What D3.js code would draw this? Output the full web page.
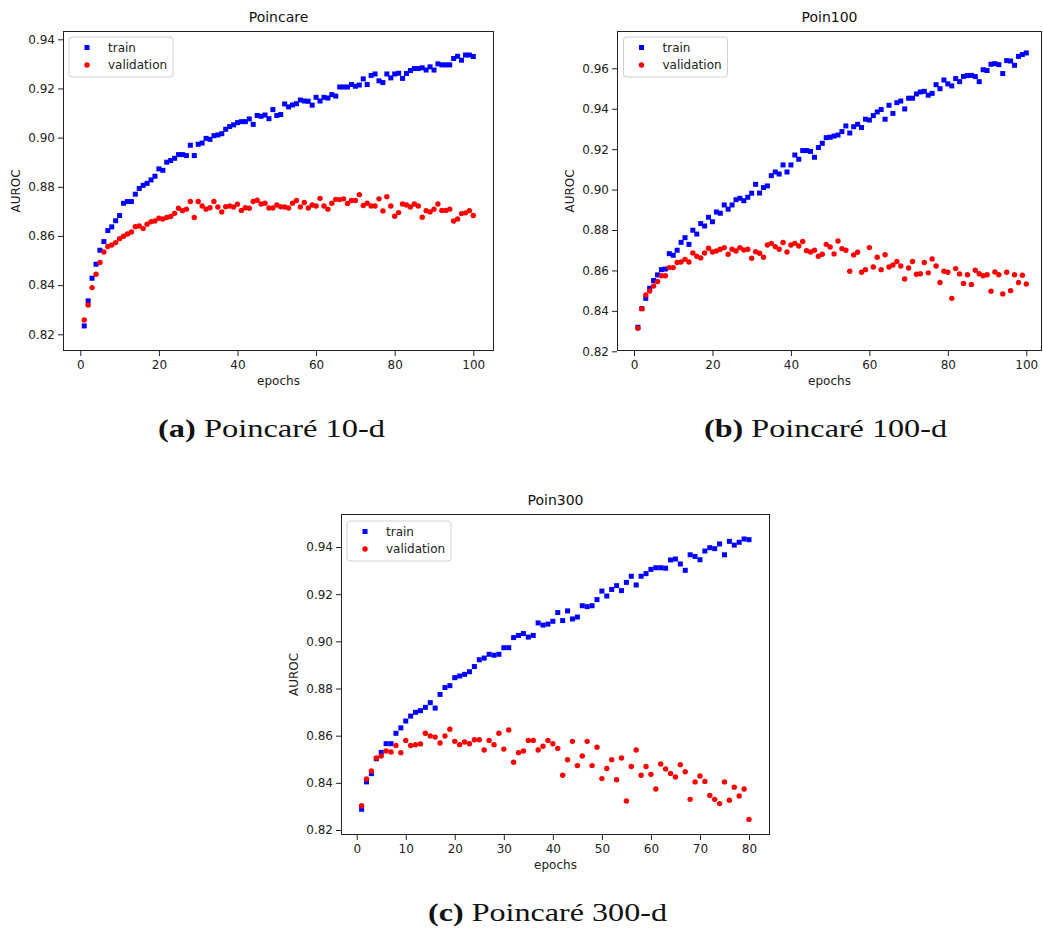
<!DOCTYPE html>
<html>
<head>
<meta charset="utf-8">
<script src="https://cdn.jsdelivr.net/npm/d3@7"></script>
<style>
  html, body { margin: 0; padding: 0; background: #fff; }
  svg { display: block; }
  .tick text { font-family: "DejaVu Sans", sans-serif; font-size: 12px; fill: #222; }
  .tick line { stroke: #222; }
  .cap { font-family: "Liberation Serif", "Times New Roman", serif; font-size: 26px; fill: #111; }
</style>
</head>
<body>
<svg id="fig" width="1043" height="932"></svg>
<script>
// ---------- data ----------
const titles = ["Poincare", "Poin100", "Poin300"];
const seriesNames = ["train", "validation"];
const captionsBold = ["(a)", "(b)", "(c)"];
const captionsText = ["Poincaré 10-d", "Poincaré 100-d", "Poincaré 300-d"];

const trainA = [0.8234,0.8336,0.8428,0.8485,0.8542,0.8577,0.8622,0.8637,0.8662,0.8683,
0.8733,0.8740,0.8740,0.8770,0.8793,0.8806,0.8814,0.8828,0.8843,0.8873,
0.8867,0.8900,0.8907,0.8916,0.8931,0.8931,0.8927,0.8969,0.8927,0.8973,
0.8978,0.8997,0.8993,0.9008,0.9011,0.9016,0.9034,0.9045,0.9052,0.9061,
0.9065,0.9065,0.9076,0.9054,0.9090,0.9087,0.9092,0.9077,0.9114,0.9090,
0.9094,0.9137,0.9125,0.9133,0.9138,0.9153,0.9149,0.9148,0.9132,0.9164,
0.9149,0.9164,0.9161,0.9175,0.9169,0.9206,0.9206,0.9206,0.9216,0.9209,
0.9214,0.9239,0.9216,0.9253,0.9259,0.9231,0.9224,0.9259,0.9243,0.9259,
0.9262,0.9241,0.9261,0.9273,0.9281,0.9281,0.9284,0.9275,0.9288,0.9275,
0.9300,0.9296,0.9296,0.9296,0.9322,0.9331,0.9315,0.9336,0.9336,0.9330];
const valA = [0.8258,0.8319,0.8390,0.8444,0.8492,0.8535,0.8557,0.8563,0.8573,0.8589,
0.8599,0.8608,0.8616,0.8638,0.8641,0.8630,0.8648,0.8658,0.8661,0.8672,
0.8669,0.8675,0.8679,0.8692,0.8713,0.8703,0.8709,0.8740,0.8675,0.8740,
0.8722,0.8709,0.8715,0.8740,0.8718,0.8698,0.8719,0.8722,0.8718,0.8729,
0.8704,0.8715,0.8713,0.8740,0.8745,0.8730,0.8733,0.8714,0.8714,0.8726,
0.8719,0.8718,0.8714,0.8733,0.8744,0.8718,0.8736,0.8714,0.8726,0.8722,
0.8753,0.8722,0.8709,0.8733,0.8749,0.8748,0.8751,0.8732,0.8744,0.8744,
0.8768,0.8724,0.8733,0.8722,0.8722,0.8751,0.8702,0.8760,0.8722,0.8680,
0.8695,0.8730,0.8726,0.8718,0.8730,0.8722,0.8676,0.8703,0.8698,0.8709,
0.8730,0.8704,0.8704,0.8709,0.8661,0.8669,0.8691,0.8694,0.8703,0.8683];

const trainB = [0.8319,0.8411,0.8462,0.8512,0.8550,0.8578,0.8604,0.8607,0.8683,0.8675,
0.8700,0.8739,0.8762,0.8729,0.8799,0.8780,0.8832,0.8820,0.8863,0.8841,
0.8889,0.8883,0.8924,0.8903,0.8924,0.8950,0.8957,0.8945,0.8962,0.8982,
0.9026,0.8983,0.9010,0.9018,0.9069,0.9087,0.9077,0.9122,0.9087,0.9122,
0.9171,0.9150,0.9193,0.9193,0.9189,0.9160,0.9208,0.9229,0.9257,0.9259,
0.9265,0.9270,0.9287,0.9315,0.9280,0.9311,0.9323,0.9307,0.9348,0.9344,
0.9366,0.9384,0.9396,0.9348,0.9417,0.9377,0.9430,0.9438,0.9399,0.9452,
0.9452,0.9473,0.9483,0.9486,0.9467,0.9476,0.9519,0.9499,0.9542,0.9523,
0.9513,0.9549,0.9534,0.9560,0.9564,0.9565,0.9559,0.9534,0.9593,0.9589,
0.9620,0.9623,0.9618,0.9574,0.9638,0.9636,0.9615,0.9659,0.9668,0.9676];
const valB = [0.8314,0.8411,0.8479,0.8498,0.8523,0.8545,0.8574,0.8574,0.8614,0.8614,
0.8639,0.8642,0.8655,0.8642,0.8686,0.8670,0.8662,0.8686,0.8710,0.8691,
0.8696,0.8705,0.8713,0.8680,0.8705,0.8696,0.8713,0.8701,0.8705,0.8660,
0.8693,0.8685,0.8665,0.8726,0.8734,0.8718,0.8705,0.8738,0.8691,0.8726,
0.8734,0.8721,0.8743,0.8698,0.8691,0.8700,0.8670,0.8680,0.8729,0.8716,
0.8682,0.8746,0.8708,0.8700,0.8596,0.8677,0.8690,0.8591,0.8604,0.8713,
0.8617,0.8665,0.8604,0.8678,0.8617,0.8627,0.8644,0.8622,0.8558,0.8612,
0.8644,0.8581,0.8584,0.8639,0.8588,0.8657,0.8622,0.8540,0.8596,0.8591,
0.8462,0.8609,0.8583,0.8536,0.8579,0.8531,0.8601,0.8584,0.8574,0.8579,
0.8497,0.8592,0.8579,0.8484,0.8591,0.8500,0.8579,0.8540,0.8576,0.8533];

const trainC = [0.8288,0.8404,0.8439,0.8502,0.8529,0.8566,0.8566,0.8610,0.8633,0.8662,
0.8683,0.8699,0.8706,0.8720,0.8740,0.8717,0.8775,0.8804,0.8812,0.8846,
0.8853,0.8860,0.8871,0.8893,0.8922,0.8929,0.8945,0.8941,0.8945,0.8973,
0.8973,0.9016,0.9025,0.9033,0.9018,0.9025,0.9078,0.9069,0.9073,0.9085,
0.9122,0.9088,0.9129,0.9095,0.9103,0.9151,0.9147,0.9151,0.9177,0.9213,
0.9192,0.9220,0.9236,0.9215,0.9250,0.9276,0.9239,0.9276,0.9287,0.9305,
0.9312,0.9312,0.9310,0.9345,0.9349,0.9328,0.9301,0.9367,0.9360,0.9346,
0.9383,0.9397,0.9393,0.9413,0.9367,0.9424,0.9408,0.9420,0.9434,0.9431];
const valC = [0.8303,0.8416,0.8450,0.8505,0.8514,0.8535,0.8531,0.8558,0.8528,0.8580,
0.8558,0.8562,0.8565,0.8610,0.8599,0.8594,0.8569,0.8599,0.8627,0.8576,
0.8562,0.8573,0.8566,0.8583,0.8583,0.8539,0.8580,0.8562,0.8610,0.8543,
0.8624,0.8487,0.8528,0.8535,0.8580,0.8580,0.8539,0.8555,0.8580,0.8566,
0.8546,0.8432,0.8498,0.8576,0.8473,0.8514,0.8576,0.8473,0.8551,0.8418,
0.8461,0.8498,0.8413,0.8505,0.8323,0.8469,0.8539,0.8432,0.8469,0.8436,
0.8374,0.8480,0.8459,0.8440,0.8425,0.8477,0.8447,0.8330,0.8404,0.8429,
0.8406,0.8346,0.8330,0.8312,0.8404,0.8326,0.8381,0.8344,0.8374,0.8245];

const xTicksA = [0, 20, 40, 60, 80, 100];
const xTicksC = [0, 10, 20, 30, 40, 50, 60, 70, 80];
const yTicksA = [0.82, 0.84, 0.86, 0.88, 0.90, 0.92, 0.94];
const yTicksB = [0.82, 0.84, 0.86, 0.88, 0.90, 0.92, 0.94, 0.96];

// ---------- layout ----------
const panels = [
  { title: titles[0], train: trainA, val: valA, xTicks: xTicksA, yTicks: yTicksA,
    box: [63, 31, 494, 351], xd: [0, 100], xr: [80.3, 473.3], yd: [0.82, 0.94], yr: [334.3, 39.3],
    legend: [69, 37], ylabX: 15.5 },
  { title: titles[1], train: trainB, val: valB, xTicks: xTicksA, yTicks: yTicksB,
    box: [617, 31, 1042, 351], xd: [0, 100], xr: [634, 1026.3], yd: [0.82, 0.96], yr: [351.3, 68.3],
    legend: [623.5, 37], ylabX: 570 },
  { title: titles[2], train: trainC, val: valC, xTicks: xTicksC, yTicks: yTicksA,
    box: [341, 514, 770, 835], xd: [0, 80], xr: [356.7, 749], yd: [0.82, 0.94], yr: [830, 547],
    legend: [347, 521], ylabX: 293.5 }
];

const captions = [
  { b: captionsBold[0], t: captionsText[0], cx: 271.5, y: 436.5, w: 227 },
  { b: captionsBold[1], t: captionsText[1], cx: 825.5, y: 436.5, w: 243 },
  { b: captionsBold[2], t: captionsText[2], cx: 547.5, y: 920.5, w: 239 }
];

const svg = d3.select("#fig");
svg.append("rect").attr("width", 1043).attr("height", 932).attr("fill", "#fff");

const fmt = d3.format(".2f");

panels.forEach(p => {
  const [L, T, R, B] = p.box;
  const x = d3.scaleLinear().domain(p.xd).range(p.xr);
  const y = d3.scaleLinear().domain(p.yd).range(p.yr);
  const g = svg.append("g");

  const cid = "clip" + L;
  svg.append("clipPath").attr("id", cid).append("rect")
    .attr("x", L).attr("y", T).attr("width", R - L).attr("height", B - T);

  g.append("g").attr("transform", `translate(0,${B})`)
    .call(d3.axisBottom(x).tickValues(p.xTicks).tickFormat(d3.format("d")).tickSize(5).tickPadding(4))
    .call(a => a.select(".domain").remove());
  g.append("g").attr("transform", `translate(${L},0)`)
    .call(d3.axisLeft(y).tickValues(p.yTicks).tickFormat(fmt).tickSize(5).tickPadding(3))
    .call(a => a.select(".domain").remove());

  const pts = g.append("g").attr("clip-path", `url(#${cid})`);
  pts.selectAll("rect.tr").data(p.train).join("rect").attr("class", "tr")
    .attr("x", (d, i) => x(i + 1) - 2.5).attr("y", d => y(d) - 2.5)
    .attr("width", 5).attr("height", 5).attr("fill", "#0000ff");
  pts.selectAll("circle.va").data(p.val).join("circle").attr("class", "va")
    .attr("cx", (d, i) => x(i + 1)).attr("cy", d => y(d))
    .attr("r", 2.7).attr("fill", "#ff0000");

  g.append("rect").attr("x", L + 0.5).attr("y", T + 0.5)
    .attr("width", R - L - 1).attr("height", B - T - 1)
    .attr("fill", "none").attr("stroke", "#222").attr("stroke-width", 1);

  g.append("text").attr("x", (L + R) / 2).attr("y", T - 9)
    .attr("text-anchor", "middle").attr("font-family", "DejaVu Sans")
    .attr("font-size", 14).attr("fill", "#111").text(p.title);

  g.append("text").attr("x", (L + R) / 2).attr("y", B + 34)
    .attr("text-anchor", "middle").attr("font-family", "DejaVu Sans")
    .attr("font-size", 12).attr("fill", "#222").text("epochs");
  g.append("text").attr("transform", `translate(${p.ylabX + 4},${(T + B) / 2}) rotate(-90)`)
    .attr("text-anchor", "middle").attr("font-family", "DejaVu Sans")
    .attr("font-size", 12).attr("fill", "#222").text("AUROC");

  const [lx, ly] = p.legend;
  const lg = g.append("g").attr("transform", `translate(${lx},${ly})`);
  lg.append("rect").attr("x", 0).attr("y", 0).attr("width", 104).attr("height", 40)
    .attr("rx", 3).attr("fill", "#fff").attr("fill-opacity", 0.85)
    .attr("stroke", "#d0d0d0").attr("stroke-width", 1);
  seriesNames.forEach((s, i) => {
    const yy = 10.5 + i * 17.5;
    if (i === 0) {
      lg.append("rect").attr("x", 15.5).attr("y", yy - 2.5).attr("width", 5).attr("height", 5).attr("fill", "#0000ff");
    } else {
      lg.append("circle").attr("cx", 18).attr("cy", yy).attr("r", 2.7).attr("fill", "#ff0000");
    }
    lg.append("text").attr("x", 39).attr("y", yy + 4.3)
      .attr("font-family", "DejaVu Sans").attr("font-size", 12).attr("fill", "#222").text(s);
  });
});

captions.forEach(c => {
  const t = svg.append("text").attr("class", "cap").attr("x", c.cx).attr("y", c.y)
    .attr("text-anchor", "middle")
    .attr("textLength", c.w).attr("lengthAdjust", "spacingAndGlyphs");
  t.append("tspan").attr("font-weight", "bold").text(c.b);
  t.append("tspan").text("\u00a0" + c.t);
});
</script>
</body>
</html>
